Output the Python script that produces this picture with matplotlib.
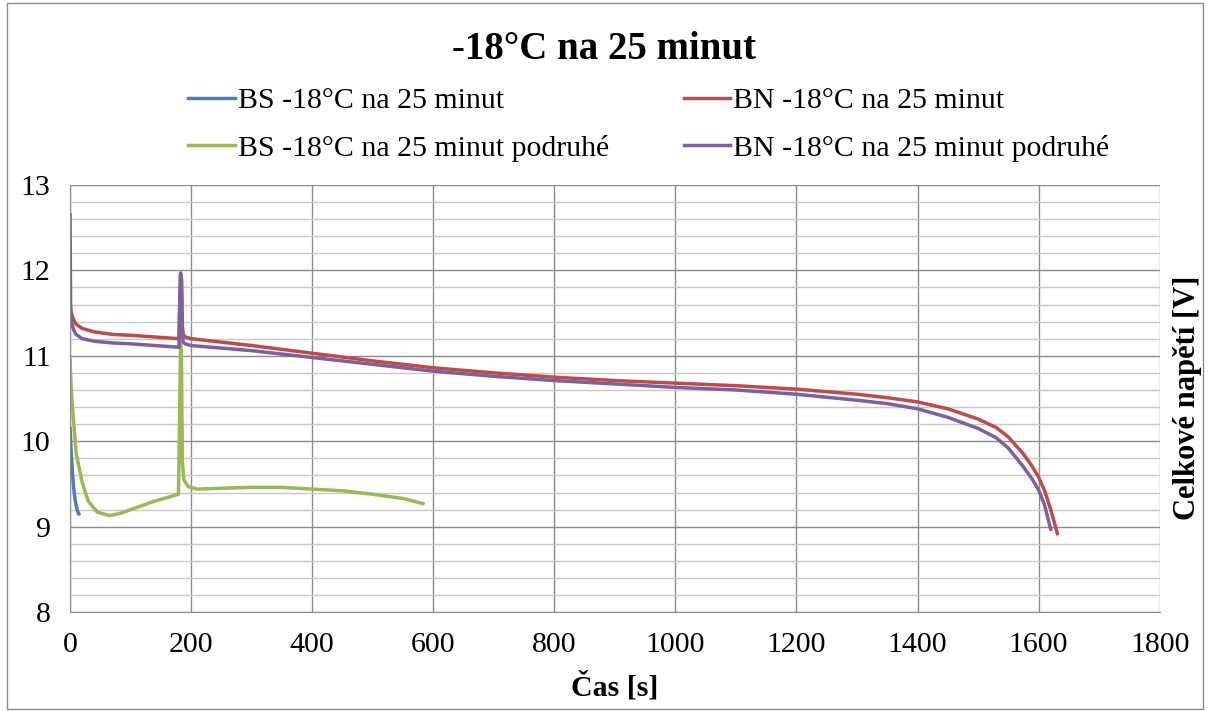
import matplotlib
matplotlib.use("Agg")
import matplotlib.pyplot as plt
from matplotlib.ticker import MultipleLocator
from matplotlib.patches import Rectangle

plt.rcParams['font.family'] = ['Liberation Serif', 'DejaVu Serif']

# BS -18°C na 25 minut
bs_t = [0, 2, 4, 6, 8, 10, 12, 14.5]
bs_v = [10.15, 9.85, 9.62, 9.45, 9.33, 9.25, 9.19, 9.15]

# BN -18°C na 25 minut
bn_t = [0, 1, 3, 6, 10, 20, 40, 70, 100, 140, 180, 181, 182.5, 184, 185.5, 187, 190, 200, 300,
        400, 500, 600, 700, 800, 900, 1000, 1100, 1200, 1300, 1350, 1400, 1450, 1500,
        1530, 1550, 1575, 1590, 1600, 1610, 1620, 1631]
bn_v = [11.6, 11.55, 11.48, 11.42, 11.37, 11.32, 11.28, 11.25, 11.24, 11.22, 11.2, 11.6, 11.95, 11.9,
        11.35, 11.25, 11.22, 11.2, 11.12, 11.03, 10.94, 10.86, 10.8, 10.75, 10.71, 10.68, 10.65,
        10.61, 10.55, 10.51, 10.46, 10.38, 10.26, 10.16, 10.05, 9.85, 9.7, 9.58, 9.42, 9.2, 8.92]

# BS -18°C na 25 minut podruhé
bs2_t = [0, 2, 5, 10, 20, 30, 45, 65, 85, 100, 120, 140, 160, 179, 181, 182.5, 184, 185.5, 188,
         195, 210, 250, 300, 350, 400, 450, 500, 550, 583]
bs2_v = [10.95, 10.6, 10.3, 9.86, 9.52, 9.3, 9.17, 9.13, 9.16, 9.2, 9.25, 9.3, 9.34, 9.38, 10.3,
         11.15, 11.0, 9.75, 9.55, 9.47, 9.44, 9.45, 9.46, 9.46, 9.44, 9.42, 9.38, 9.33, 9.27]

# BN -18°C na 25 minut podruhé
bn2_t = [0, 0.5, 1, 3, 6, 10, 20, 40, 70, 100, 140, 180, 181, 182.5, 184, 185.5, 187, 190, 200,
         300, 400, 500, 600, 700, 800, 900, 1000, 1100, 1200, 1300, 1350, 1400, 1450, 1500,
         1530, 1550, 1575, 1590, 1600, 1610, 1620]
bn2_v = [12.65, 12.0, 11.5, 11.38, 11.3, 11.25, 11.2, 11.17, 11.15, 11.14, 11.12, 11.1, 11.5, 11.97,
         11.9, 11.25, 11.16, 11.14, 11.12, 11.06, 10.98, 10.9, 10.82, 10.76, 10.71, 10.67, 10.63,
         10.6, 10.55, 10.48, 10.44, 10.38, 10.28, 10.15, 10.04, 9.92, 9.7, 9.55, 9.43, 9.25, 8.97]

fig = plt.figure(figsize=(12.08, 7.11), dpi=100)
ax = fig.add_axes([0.058, 0.139, 0.902, 0.601])

lw = 2.5
l1, = ax.plot(bs_t, bs_v, color='#4A7EBB', lw=lw, label='BS -18°C na 25 minut')
l2, = ax.plot(bn_t, bn_v, color='#BE4B48', lw=lw, label='BN -18°C na 25 minut')
l3, = ax.plot(bs2_t, bs2_v, color='#98B954', lw=lw, label='BS -18°C na 25 minut podruhé')
l4, = ax.plot(bn2_t, bn2_v, color='#7D60A0', lw=lw, label='BN -18°C na 25 minut podruhé')

ax.set_xlim(0, 1800)
ax.set_ylim(8, 13)
ax.xaxis.set_major_locator(MultipleLocator(200))
ax.yaxis.set_major_locator(MultipleLocator(1))
ax.yaxis.set_minor_locator(MultipleLocator(0.2))
ax.grid(which='major', color='#8c8c8c', lw=1.0)
ax.grid(which='minor', axis='y', color='#c8c8c8', lw=1.0)
ax.set_axisbelow(True)
for s in ['top', 'right']:
    ax.spines[s].set_visible(False)
for s in ['left', 'bottom']:
    ax.spines[s].set_color('#8c8c8c')
ax.tick_params(which='both', length=0, labelsize=21.5)
ax.tick_params(axis='x', pad=14)
ax.tick_params(axis='y', pad=14)

ax.set_xlabel('Čas [s]', fontsize=21.5, fontweight='bold', labelpad=10)
fig.text(0.983, 0.44, 'Celkové napětí [V]', rotation=90, fontsize=22, fontweight='bold',
         ha='center', va='center')

fig.text(0.5, 0.93, '-18°C na 25 minut', fontsize=28, fontweight='bold', ha='center', va='center')

fig.legend(handles=[l1, l3, l2, l4], ncol=2, loc='center', bbox_to_anchor=(0.537, 0.825),
           frameon=False, fontsize=21.5, handlelength=1.55, handletextpad=0.1,
           columnspacing=2.5, labelspacing=0.68, borderpad=0)

fig.add_artist(Rectangle((0.006, 0.003), 0.99, 0.993, transform=fig.transFigure,
                         fill=False, edgecolor='#8c8c8c', lw=1.0))

fig.savefig('out.png', dpi=100)
